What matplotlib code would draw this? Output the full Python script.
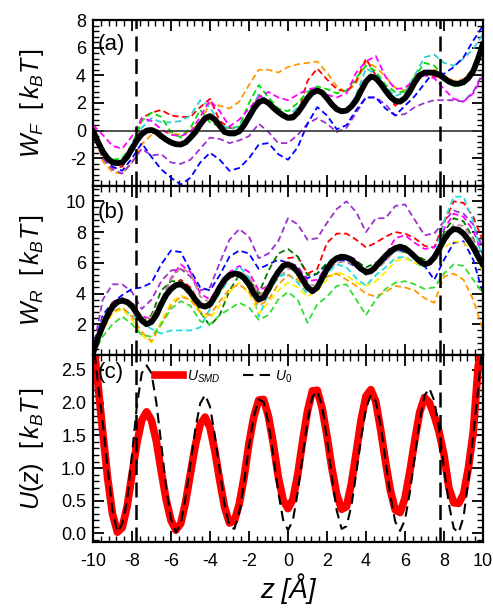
import matplotlib
matplotlib.use('Agg')
import matplotlib.pyplot as plt
import numpy as np
from matplotlib.ticker import AutoMinorLocator, MultipleLocator

plt.rcParams['font.family'] = ['Liberation Sans', 'DejaVu Sans']
plt.rcParams['mathtext.fontset'] = 'custom'
plt.rcParams['mathtext.rm'] = 'Liberation Sans'
plt.rcParams['mathtext.it'] = 'Liberation Sans:italic'
plt.rcParams['axes.unicode_minus'] = False

# sample positions (Angstrom)
z_half = np.arange(-10, 10.001, 0.5)
z_fine = np.arange(-10, 10.001, 0.25)

# ---- panel (a): forward work, individual runs ----
wf_orange = [0.0, -2.2, -3.0, -3.1, -2.3, -1.0, -0.3, 0.0, -0.2, -0.3, 0.0,
             0.6, 2.0, 1.8, 1.6, 2.1, 3.3, 4.4, 4.4, 4.2, 4.6,
             4.8, 4.9, 5.0, 4.2, 3.2, 2.8, 3.4, 5.0, 4.6, 3.9,
             3.1, 2.9, 3.3, 4.2, 4.4, 4.0, 3.6, 3.7, 4.5, 5.9]
wf_red = [0.0, -1.8, -2.7, -2.6, -1.5, 0.9, 1.3, 1.5, 1.1, 1.0, 1.0,
          1.7, 2.3, 0.7, 0.2, 0.1, 0.9, 2.6, 2.1, 1.4, 1.1,
          1.2, 3.6, 4.5, 3.7, 3.0, 2.8, 3.6, 5.2, 4.0, 2.8,
          1.8, 2.4, 4.0, 4.3, 3.9, 3.9, 3.3, 3.7, 4.3, 6.3]
wf_green = [0.3, -1.5, -2.1, -2.0, -1.0, 0.7, 1.3, 1.0, -0.1, -0.5, 0.2,
            1.5, 0.6, 0.3, 0.2, 0.3, 2.0, 3.3, 2.4, 1.6, 1.4,
            2.0, 2.8, 3.2, 3.0, 2.7, 2.9, 3.8, 4.7, 4.3, 3.3,
            2.8, 2.8, 3.9, 4.9, 4.7, 3.9, 3.2, 3.3, 4.2, 5.9]
wf_cyan = [0.0, -1.6, -2.4, -2.5, -1.3, 0.2, 0.9, 0.6, 0.6, 0.7, 1.1,
           2.2, 1.7, 0.5, 0.1, 0.3, 1.3, 2.6, 2.1, 1.3, 1.0,
           1.7, 2.4, 2.8, 2.4, 1.5, 1.3, 2.6, 4.5, 4.1, 3.2,
           2.5, 2.8, 4.0, 5.3, 5.5, 4.9, 4.7, 5.2, 5.9, 7.0]
wf_magenta = [0.4, -0.3, -1.1, -1.3, -0.4, 0.9, 0.7, 0.1, -0.3, -0.4, -0.1,
              1.0, 2.2, 1.4, 0.3, 0.8, 1.6, 2.4, 2.8, 2.4, 2.2,
              2.6, 3.0, 3.1, 2.6, 2.4, 2.7, 4.2, 5.0, 5.4, 3.9,
              3.0, 3.1, 3.7, 4.0, 3.8, 3.0, 2.3, 2.1, 2.7, 4.0]
wf_purple = [0.0, -2.0, -2.8, -3.1, -2.3, -1.3, -1.8, -1.7, -2.3, -2.4, -2.1,
             -1.3, -0.5, -0.6, -0.9, -0.7, -0.4, 0.5, -0.1, -0.9, -0.9,
             -0.3, 0.5, 0.9, 0.5, -0.1, 0.2, 1.3, 2.4, 2.4, 1.9,
             1.1, 1.2, 1.7, 2.0, 2.2, 2.2, 2.2, 2.1, 2.8, 4.2]
wf_blue = [0.0, -1.8, -2.6, -2.9, -2.0, -0.9, -1.9, -2.8, -3.4, -3.9, -3.4,
           -2.3, -1.6, -2.1, -2.9, -2.7, -2.0, -1.0, -0.9, -1.7, -2.1,
           -1.2, 0.5, 1.7, 1.1, 0.1, 0.4, 1.5, 2.4, 2.4, 1.6,
           1.1, 1.8, 2.5, 3.4, 4.3, 4.1, 4.6, 5.3, 6.5, 7.6]
wf_mean = [0.0, -0.8, -1.5, -2.0, -2.3, -2.35, -2.3, -1.9, -1.3,
           -0.7, -0.25, 0.0, 0.05, -0.1, -0.4, -0.65, -0.85,
           -0.98, -1.0, -0.85, -0.5, -0.1, 0.45, 0.9, 1.05,
           0.8, 0.35, -0.1, -0.2, -0.2, -0.05, 0.4, 1.0,
           1.6, 2.05, 2.2, 2.0, 1.65, 1.35, 1.1, 0.92,
           0.95, 1.3, 1.8, 2.35, 2.75, 2.9, 2.75, 2.35,
           1.9, 1.55, 1.4, 1.45, 1.75, 2.2, 2.9, 3.55,
           3.92, 3.8, 3.4, 2.9, 2.45, 2.15, 2.1, 2.35,
           2.85, 3.5, 4.0, 4.2, 4.2, 4.18, 4.05, 3.8,
           3.55, 3.4, 3.4, 3.5, 3.8, 4.3, 5.2, 6.3]

# ---- panel (b): reverse work, individual runs ----
wr_purple = [0.3, 3.6, 4.6, 4.6, 4.1, 3.0, 3.6, 4.8, 5.5, 5.6, 5.1,
             4.2, 4.4, 6.0, 7.5, 8.2, 7.7, 6.3, 6.6, 7.4, 8.9,
             8.5, 7.5, 7.6, 8.6, 9.5, 10.0, 9.3, 8.0, 8.9, 8.9,
             9.7, 9.8, 8.8, 7.8, 7.9, 8.7, 9.4, 9.2, 8.5, 6.9]
wr_blue = [0.3, 2.6, 3.4, 3.9, 4.3, 4.4, 4.7, 5.9, 6.8, 6.7, 5.5,
           4.4, 4.2, 5.2, 6.4, 6.8, 6.6, 5.6, 5.9, 6.2, 6.0,
           5.5, 5.0, 5.3, 5.9, 6.2, 6.1, 5.7, 5.4, 5.8, 6.2,
           6.8, 6.8, 6.3, 5.8, 4.9, 6.2, 7.3, 7.4, 6.2, 4.0]
wr_red = [0.2, 2.2, 3.4, 3.7, 3.3, 2.4, 2.3, 3.4, 4.4, 4.9, 4.4,
          3.3, 3.1, 4.2, 5.0, 5.3, 5.0, 3.9, 4.4, 5.4, 6.3,
          6.4, 5.3, 5.6, 7.3, 7.9, 7.9, 7.5, 7.0, 7.3, 7.7,
          8.0, 7.9, 7.6, 7.1, 7.0, 8.6, 10.0, 9.9, 9.0, 7.4]
wr_magenta = [0.3, 2.3, 3.3, 3.6, 3.3, 2.5, 2.4, 3.5, 5.0, 5.9, 5.4,
              4.0, 3.6, 4.6, 5.4, 5.8, 5.4, 4.2, 4.5, 5.3, 6.0,
              5.8, 4.8, 4.9, 5.8, 6.4, 6.5, 6.2, 5.5, 5.7, 6.5,
              7.6, 7.8, 7.3, 6.9, 7.0, 8.2, 9.2, 9.0, 8.1, 6.5]
wr_dkgreen = [0.2, 2.0, 3.3, 3.5, 3.0, 2.2, 2.6, 4.2, 4.8, 4.8, 4.3,
              2.8, 1.9, 2.6, 4.2, 5.2, 4.9, 4.0, 5.5, 6.6, 6.9,
              6.4, 5.2, 5.3, 6.0, 6.2, 6.3, 6.1, 5.7, 6.0, 6.4,
              6.8, 6.7, 6.5, 6.2, 6.2, 8.0, 8.9, 8.7, 7.6, 5.8]
wr_rosy = [0.2, 2.4, 3.3, 3.4, 3.1, 2.3, 2.5, 3.6, 4.9, 5.7, 5.3,
           3.8, 3.4, 4.3, 5.0, 5.4, 5.1, 3.9, 4.2, 5.0, 5.6,
           5.5, 4.5, 4.6, 5.5, 6.0, 6.1, 5.8, 5.2, 5.5, 6.1,
           6.8, 6.9, 6.5, 6.0, 6.3, 7.6, 8.5, 8.4, 7.5, 5.5]
wr_cyan = [0.1, 2.0, 2.9, 3.0, 2.6, 2.1, 1.7, 1.4, 1.6, 1.6, 1.6,
           1.8, 3.0, 4.0, 5.0, 5.8, 5.0, 2.5, 4.0, 5.1, 5.3,
           4.7, 4.0, 4.3, 5.3, 5.9, 5.7, 5.0, 4.5, 5.2, 5.7,
           6.3, 6.4, 6.0, 5.7, 6.4, 8.7, 10.3, 10.3, 8.7, 6.0]
wr_yellow = [0.0, 1.6, 2.7, 3.0, 2.3, 1.3, 0.8, 2.2, 3.4, 3.9, 3.6,
             2.7, 2.4, 3.2, 4.1, 4.7, 4.0, 2.7, 3.4, 4.2, 4.7,
             4.4, 3.8, 4.2, 4.9, 5.4, 5.2, 4.7, 4.5, 4.8, 5.4,
             6.1, 6.3, 6.0, 5.8, 6.2, 7.0, 7.4, 7.3, 6.8, 5.4]
wr_orange = [0.0, 1.8, 2.8, 3.1, 2.5, 1.5, 0.9, 2.0, 3.2, 3.8, 3.6,
             2.8, 2.6, 3.5, 4.3, 4.6, 4.1, 3.2, 3.6, 4.6, 5.2,
             4.9, 4.2, 4.4, 5.1, 5.3, 4.9, 4.5, 4.0, 3.8, 4.1,
             4.5, 4.4, 4.2, 3.7, 3.4, 5.1, 5.3, 4.9, 3.6, 1.6]
wr_green = [0.0, 1.2, 2.0, 2.5, 2.0, 1.3, 1.2, 2.0, 3.0, 3.5, 3.2,
            2.2, 2.0, 2.6, 3.0, 3.4, 3.1, 2.3, 2.6, 3.6, 4.1,
            3.6, 2.1, 3.3, 3.8, 4.5, 4.6, 3.6, 2.6, 3.6, 4.3,
            4.7, 4.8, 4.6, 4.3, 4.4, 5.3, 5.9, 5.8, 4.9, 4.0]
wr_mean = [0.1, 1.1, 1.9, 2.6, 3.15, 3.45, 3.55, 3.45, 3.2,
           2.7, 2.25, 2.0, 2.15, 2.6, 3.3, 3.9, 4.3,
           4.55, 4.6, 4.4, 4.05, 3.6, 3.25, 3.15, 3.3,
           3.8, 4.4, 4.9, 5.2, 5.3, 5.25, 5.0, 4.6,
           4.0, 3.6, 3.75, 4.3, 4.9, 5.4, 5.8, 5.9,
           5.75, 5.4, 4.9, 4.4, 4.15, 4.4, 5.0, 5.6,
           6.05, 6.3, 6.4, 6.35, 6.2, 5.9, 5.6, 5.4,
           5.45, 5.75, 6.1, 6.45, 6.75, 6.95, 7.05, 6.95,
           6.7, 6.4, 6.1, 5.9, 6.0, 6.35, 6.9, 7.5,
           7.95, 8.2, 8.15, 7.9, 7.5, 7.0, 6.4, 5.85]

# ---- panel (c): potentials ----
u_smd = [3.0, 2.3, 1.55, 0.85, 0.3, 0.02, 0.09, 0.41, 0.9,
         1.38, 1.73, 1.86, 1.73, 1.41, 0.95, 0.52, 0.2,
         0.05, 0.15, 0.48, 0.92, 1.35, 1.67, 1.78, 1.62,
         1.26, 0.81, 0.4, 0.16, 0.19, 0.45, 0.86, 1.38,
         1.79, 2.04, 2.05, 1.79, 1.37, 0.87, 0.51, 0.38,
         0.52, 0.9, 1.41, 1.87, 2.18, 2.19, 1.92, 1.49,
         1.0, 0.6, 0.37, 0.41, 0.76, 1.24, 1.74, 2.1,
         2.2, 2.02, 1.59, 1.1, 0.66, 0.36, 0.32, 0.54,
         0.95, 1.42, 1.85, 2.08, 2.0, 1.8, 1.55, 1.2,
         0.7, 0.47, 0.46, 0.6, 1.0, 1.55, 2.55, 3.0]
u_0 = [3.0, 2.3, 1.7, 1.0, 0.35, 0.02, 0.15, 0.5, 1.2,
       1.95, 2.45, 2.57, 2.45, 2.0, 1.37, 0.71, 0.22,
       0.02, 0.15, 0.55, 1.07, 1.6, 1.99, 2.12, 1.94,
       1.5, 0.96, 0.44, 0.11, 0.07, 0.32, 0.78, 1.34,
       1.79, 2.05, 2.01, 1.69, 1.18, 0.64, 0.21, 0.05,
       0.2, 0.63, 1.18, 1.71, 2.09, 2.18, 1.95, 1.44,
       0.86, 0.35, 0.07, 0.11, 0.42, 0.92, 1.46, 1.91,
       2.12, 2.02, 1.66, 1.12, 0.58, 0.18, 0.04, 0.21,
       0.63, 1.17, 1.72, 2.11, 2.22, 2.03, 1.6, 1.0,
       0.45, 0.08, 0.01, 0.25, 0.8, 1.5, 2.2, 3.0]

z_bounds = [-7.8, 7.8]

runs_a = [(wf_orange, '#ff9900'), (wf_red, '#ff0000'), (wf_green, '#00dd00'),
          (wf_cyan, '#33cccc'), (wf_magenta, '#ff00ff'), (wf_purple, '#9933cc'),
          (wf_blue, '#0000ff')]
runs_b = [(wr_purple, '#9933cc'), (wr_blue, '#0000ff'), (wr_red, '#ff0000'),
          (wr_magenta, '#ff00ff'), (wr_dkgreen, '#007700'), (wr_rosy, '#bc8f8f'),
          (wr_cyan, '#22dddd'), (wr_yellow, '#ffee00'), (wr_orange, '#ff9900'),
          (wr_green, '#33dd33')]

fig = plt.figure(figsize=(4.93, 6.08), dpi=100)
L, W = 0.1886, 0.7911
ax_a = fig.add_axes([L, 0.6941, W, 0.2730])
ax_b = fig.add_axes([L, 0.4161, W, 0.2780])
ax_c = fig.add_axes([L, 0.1086, W, 0.3076])

dash = (0, (3.5, 2))
for vals, col in runs_a:
    ax_a.plot(z_half, vals, color=col, lw=1.3, ls=dash)
ax_a.axhline(0, color='#333333', lw=1.2)
ax_a.plot(z_fine, wf_mean, color='black', lw=4.2, solid_capstyle='round')

for vals, col in runs_b:
    ax_b.plot(z_half, vals, color=col, lw=1.3, ls=dash)
ax_b.plot(z_fine, wr_mean, color='black', lw=4.2, solid_capstyle='round')

ax_c.plot(z_fine, u_smd, color='#ff0000', lw=5.5, label=r'$U_{SMD}$')
ax_c.plot(z_fine, u_0, color='black', lw=1.5, ls=(0, (5, 3)), label=r'$U_0$')
ax_c.legend(loc='center left', bbox_to_anchor=(0.16, 0.885), frameon=False,
            ncol=2, fontsize=10, handlelength=2.0, handletextpad=0.3,
            columnspacing=1.6, borderpad=0, borderaxespad=0)

for ax in (ax_a, ax_b, ax_c):
    for zb in z_bounds:
        ax.axvline(zb, color='black', lw=1.8, ls=(0, (6, 3)))
    ax.set_xlim(-10, 10)
    ax.xaxis.set_major_locator(MultipleLocator(2))
    ax.xaxis.set_minor_locator(AutoMinorLocator(5))
    ax.tick_params(which='both', direction='in', top=True, right=True, labelsize=13)
    ax.tick_params(which='major', length=8, width=1.3, pad=5)
    ax.tick_params(which='minor', length=4.5, width=1.0)
    for s in ax.spines.values():
        s.set_linewidth(1.6)
    ax.yaxis.set_label_coords(-0.12, 0.5)

ax_a.set_ylim(-4, 8)
ax_a.set_yticks([-2, 0, 2, 4, 6, 8])
ax_a.yaxis.set_minor_locator(MultipleLocator(0.4))
ax_b.set_ylim(0, 11)
ax_b.set_yticks([2, 4, 6, 8, 10])
ax_b.yaxis.set_minor_locator(MultipleLocator(0.4))
ax_c.set_ylim(-0.13, 2.73)
ax_c.set_yticks([0, 0.5, 1.0, 1.5, 2.0, 2.5])
ax_c.set_yticklabels(['0.0', '0.5', '1.0', '1.5', '2.0', '2.5'])
ax_c.yaxis.set_minor_locator(MultipleLocator(0.1))
ax_a.tick_params(labelbottom=False)
ax_b.tick_params(labelbottom=False)
ax_c.tick_params(axis='x', pad=8)

ax_a.set_ylabel(r'$W_F\ \ [\,k_B T\,]$', fontsize=18)
ax_b.set_ylabel(r'$W_R\ \ [\,k_B T\,]$', fontsize=18)
ax_c.set_ylabel(r'$U(z)\ \ [\,k_B T\,]$', fontsize=18)
ax_c.set_xlabel('z [Å]', fontsize=20, style='italic', labelpad=2)

ax_a.text(0.012, 0.85, '(a)', transform=ax_a.transAxes, fontsize=16, va='center')
ax_b.text(0.012, 0.846, '(b)', transform=ax_b.transAxes, fontsize=16, va='center')
ax_c.text(0.012, 0.905, '(c)', transform=ax_c.transAxes, fontsize=16, va='center')

plt.savefig('out.png', dpi=100)
